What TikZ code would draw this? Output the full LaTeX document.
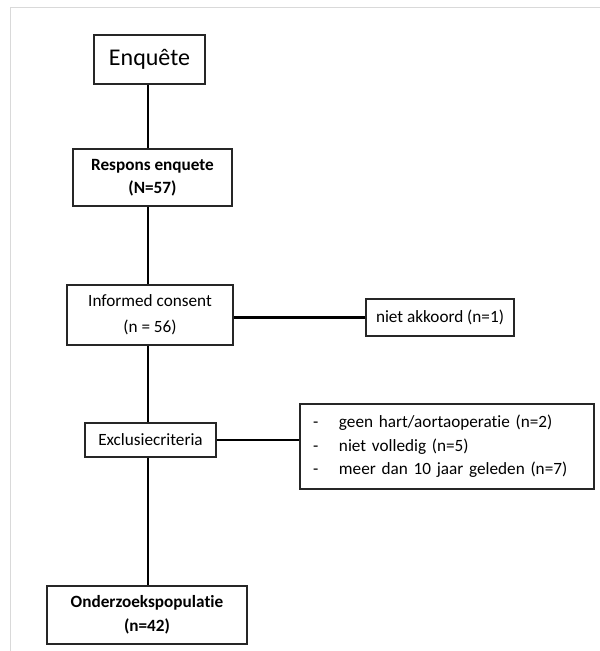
\documentclass[tikz,border=0pt]{standalone}
\usepackage{fontspec}
\setmainfont{Carlito}[Ligatures=NoCommon]
\begin{document}
\begin{tikzpicture}[x=1pt,y=-1pt,
  box/.style={draw=black!85,line width=1.1pt,fill=white,inner sep=0pt,
    font=\fontsize{17.2}{23.5}\selectfont,align=center},
  link/.style={line width=2.2pt}]
\useasboundingbox (0,0) rectangle (600,651);
\draw[black!15,line width=1pt] (10,651) -- (10,7) -- (600,7);
\coordinate (spine) at (148,0);
\node[box,minimum width=111,minimum height=49,font=\fontsize{24}{28}\selectfont] (enq) at (149.5,59.5) {Enquête};
\node[box,minimum width=159,minimum height=57] (resp) at (152.5,177.5) {\textbf{Respons enquete}\\\textbf{(N=57)}};
\node[box,minimum width=166,minimum height=60,font=\fontsize{17.2}{26}\selectfont] (inf) at (150,315) {Informed consent\\(n = 56)};
\node[box,minimum width=148,minimum height=37] (nak) at (440,317.5) {niet akkoord (n=1)};
\node[box,minimum width=131,minimum height=34] (excl) at (150.5,440) {Exclusiecriteria};
\node[box,minimum height=85,align=left,inner xsep=13pt,text width=268pt] (crit) at (447,446.5)
  {\makebox[26pt][l]{-}geen hart/aortaoperatie (n=2)\\
   \makebox[26pt][l]{-}niet volledig (n=5)\\
   \makebox[26pt][l]{-}meer dan 10 jaar geleden (n=7)};
\node[box,minimum width=200,minimum height=58] (pop) at (147,615) {\textbf{Onderzoekspopulatie}\\\textbf{(n=42)}};
\draw[link] (enq.south -| spine) -- (resp.north -| spine);
\draw[link] (resp.south -| spine) -- (inf.north -| spine);
\draw[link] (inf.south -| spine) -- (excl.north -| spine);
\draw[link] (excl.south -| spine) -- (pop.north -| spine);
\draw[link] (inf.east |- nak.west) -- (nak.west);
\draw[link] (excl.east) -- (excl.east -| crit.west);
\end{tikzpicture}
\end{document}
